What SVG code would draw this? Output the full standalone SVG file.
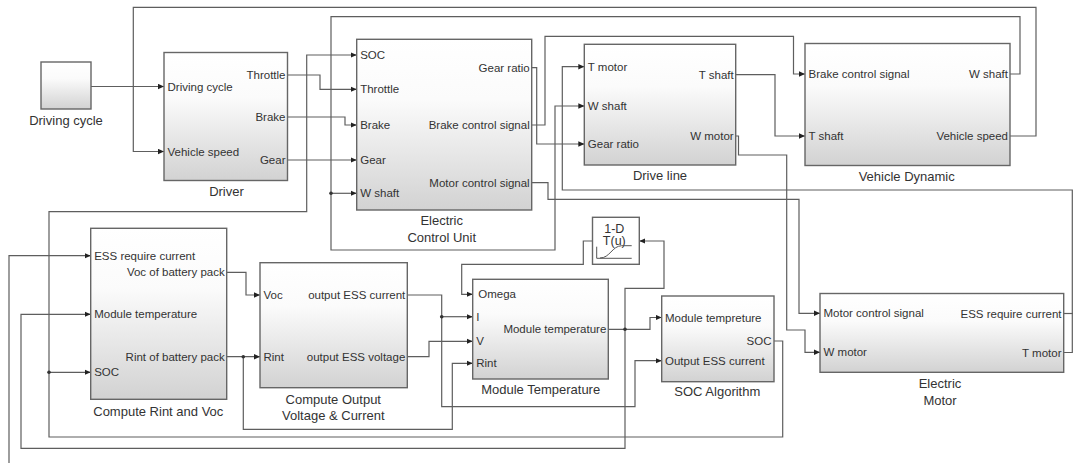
<svg xmlns="http://www.w3.org/2000/svg" width="1073" height="463" viewBox="0 0 1073 463">
<style>
.blk{fill:url(#g);stroke:#666;stroke-width:1.4}
.lut{fill:#fff;stroke:#666;stroke-width:1.4}
.ln{fill:none;stroke:#5e5e5e;stroke-width:1.2}
.ar{marker-end:url(#a)}
.dot{fill:#333}
text{font-family:"Liberation Sans",Arial,sans-serif;fill:#333}
.pl{font-size:11.5px}
.pr{font-size:11.5px;text-anchor:end}
.cap{font-size:13px;text-anchor:middle}
.ico{fill:none;stroke:#555;stroke-width:1}
</style>
<defs>
<linearGradient id="g" x1="0" y1="0" x2="0" y2="1">
<stop offset="0" stop-color="#ffffff"/>
<stop offset="0.35" stop-color="#fbfbfb"/>
<stop offset="1" stop-color="#d2d2d2"/>
</linearGradient>
<marker id="a" viewBox="0 0 6 6" refX="6" refY="3" markerWidth="6" markerHeight="6" markerUnits="userSpaceOnUse" orient="auto">
<path d="M0,0.3 L6,3 L0,5.7 z" fill="#222"/>
</marker>
</defs>
<rect width="1073" height="463" fill="#fff"/>

<g id="connectors">
<polyline class="ln ar" points="91,86.5 164,86.5"/>
<polyline class="ln ar" points="1010,136 1036,136 1036,7.3 133.3,7.3 133.3,151.5 164,151.5"/>
<polyline class="ln ar" points="287.5,75 320,75 320,89.3 356.7,89.3"/>
<polyline class="ln ar" points="287.5,117 345,117 345,125 356.7,125"/>
<polyline class="ln ar" points="287.5,160 356.7,160"/>
<polyline class="ln ar" points="774,341 782.7,341 782.7,437 49,437 49,211.7 306.7,211.7 306.7,55 356.7,55"/>
<polyline class="ln ar" points="49,372.3 90.7,372.3"/>
<circle class="dot" cx="49" cy="372.3" r="1.8"/>
<polyline class="ln ar" points="1010,74 1020,74 1020,16.7 331,16.7 331,250 555,250 555,106 584.3,106"/>
<polyline class="ln ar" points="331,193.3 356.7,193.3"/>
<circle class="dot" cx="331" cy="193.3" r="1.8"/>
<polyline class="ln ar" points="531.7,67.7 536.7,67.7 536.7,144 584.3,144"/>
<polyline class="ln ar" points="531.7,125 545,125 545,36.3 793.5,36.3 793.5,74 805,74"/>
<polyline class="ln ar" points="531.7,182.7 548,182.7 548,199.3 799,199.3 799,313.3 820,313.3"/>
<polyline class="ln ar" points="735.7,74.7 775,74.7 775,136 805,136"/>
<polyline class="ln ar" points="735.7,136 738.5,136 738.5,155 786.7,155 786.7,330 805,330 805,352.3 820,352.3"/>
<polyline class="ln ar" points="1063.7,352.5 1072.3,352.5 1072.3,190 562.3,190 562.3,66.7 584.3,66.7"/>
<polyline class="ln" points="1063.7,313.5 1074,313.5"/>
<polyline class="ln ar" points="9,464 9,255.7 90.7,255.7"/>
<polyline class="ln ar" points="226.7,272.3 246,272.3 246,295 260,295"/>
<polyline class="ln ar" points="226.7,356.7 260,356.7"/>
<polyline class="ln ar" points="243.3,356.7 243.3,429.3 452.3,429.3 452.3,363.3 472.7,363.3"/>
<circle class="dot" cx="243.3" cy="356.7" r="1.8"/>
<polyline class="ln ar" points="407.3,295 441.7,295 441.7,406.7 635,406.7 635,360.7 661.7,360.7"/>
<polyline class="ln ar" points="441.7,316.7 472.7,316.7"/>
<circle class="dot" cx="441.7" cy="316.7" r="1.8"/>
<polyline class="ln ar" points="407.3,356.7 429,356.7 429,341.3 472.7,341.3"/>
<polyline class="ln ar" points="608.3,329.3 650,329.3 650,317.5 661.7,317.5"/>
<polyline class="ln ar" points="625,329.3 625,288.3 664,288.3 664,241 639.3,241"/>
<polyline class="ln ar" points="625,329.3 625,448.3 21,448.3 21,314.3 90.7,314.3"/>
<circle class="dot" cx="625" cy="329.3" r="1.8"/>
<polyline class="ln ar" points="592.5,241 583.3,241 583.3,264.3 461.7,264.3 461.7,294.3 472.7,294.3"/>
</g>

<g id="driving-cycle">
<rect class="blk" x="41" y="62" width="50" height="47"/>
<text class="cap" x="66" y="124.5">Driving cycle</text>
</g>

<g id="driver">
<rect class="blk" x="164" y="52.5" width="123.5" height="128"/>
<text class="pl" x="167.5" y="90.5">Driving cycle</text>
<text class="pl" x="167.5" y="155.5">Vehicle speed</text>
<text class="pr" x="285.5" y="79">Throttle</text>
<text class="pr" x="285.5" y="121">Brake</text>
<text class="pr" x="285.5" y="164">Gear</text>
<text class="cap" x="226.5" y="196">Driver</text>
</g>

<g id="ecu">
<rect class="blk" x="356.7" y="39.3" width="175" height="170.7"/>
<text class="pl" x="360.2" y="59">SOC</text>
<text class="pl" x="360.2" y="93.3">Throttle</text>
<text class="pl" x="360.2" y="129">Brake</text>
<text class="pl" x="360.2" y="164">Gear</text>
<text class="pl" x="360.2" y="197.3">W shaft</text>
<text class="pr" x="529.7" y="71.7">Gear ratio</text>
<text class="pr" x="529.7" y="129">Brake control signal</text>
<text class="pr" x="529.7" y="186.7">Motor control signal</text>
<text class="cap" x="441.7" y="224.5">Electric</text>
<text class="cap" x="441.7" y="242">Control Unit</text>
</g>

<g id="drive-line">
<rect class="blk" x="584.3" y="44.3" width="151.4" height="120.7"/>
<text class="pl" x="587.8" y="70.7">T motor</text>
<text class="pl" x="587.8" y="110">W shaft</text>
<text class="pl" x="587.8" y="148">Gear ratio</text>
<text class="pr" x="733.7" y="78.7">T shaft</text>
<text class="pr" x="733.7" y="140">W motor</text>
<text class="cap" x="660" y="179.5">Drive line</text>
</g>

<g id="vehicle-dynamic">
<rect class="blk" x="805" y="43.5" width="205" height="122"/>
<text class="pl" x="808.5" y="78">Brake control signal</text>
<text class="pl" x="808.5" y="140">T shaft</text>
<text class="pr" x="1008" y="78">W shaft</text>
<text class="pr" x="1008" y="140">Vehicle speed</text>
<text class="cap" x="906.7" y="181">Vehicle Dynamic</text>
</g>

<g id="compute-rint-voc">
<rect class="blk" x="90.7" y="228.3" width="136" height="171"/>
<text class="pl" x="94.2" y="259.7">ESS require current</text>
<text class="pl" x="94.2" y="318.3">Module temperature</text>
<text class="pl" x="94.2" y="376.3">SOC</text>
<text class="pr" x="224.7" y="276.3">Voc of battery pack</text>
<text class="pr" x="224.7" y="360.7">Rint of battery pack</text>
<text class="cap" x="158.3" y="415.5">Compute Rint and Voc</text>
</g>

<g id="compute-output">
<rect class="blk" x="260" y="262.7" width="147.3" height="125"/>
<text class="pl" x="263.5" y="299">Voc</text>
<text class="pl" x="263.5" y="360.7">Rint</text>
<text class="pr" x="405.3" y="299">output ESS current</text>
<text class="pr" x="405.3" y="360.7">output ESS voltage</text>
<text class="cap" x="333.3" y="404">Compute Output</text>
<text class="cap" x="333.3" y="419.5">Voltage &amp; Current</text>
</g>

<g id="module-temperature">
<rect class="blk" x="472.7" y="279.3" width="135.6" height="99.7"/>
<text class="pl" x="478.3" y="298.3">Omega</text>
<text class="pl" x="476.2" y="320.7">I</text>
<text class="pl" x="476.2" y="345.3">V</text>
<text class="pl" x="476.2" y="367.3">Rint</text>
<text class="pr" x="606.3" y="333.3">Module temperature</text>
<text class="cap" x="540.7" y="394">Module Temperature</text>
</g>

<g id="lookup-table">
<rect class="lut" x="592.5" y="217.3" width="46.8" height="47"/>
<text x="614.3" y="232.5" font-size="12.5" text-anchor="middle">1-D</text>
<text x="614.3" y="244.5" font-size="12.5" text-anchor="middle">T(u)</text>
<path class="ico" d="M596.7,246.7 V258.3 H631.7"/>
<path class="ico" d="M600,258 C610,258 612,246 621.7,245.7 H631.7"/>
</g>

<g id="soc-algorithm">
<rect class="blk" x="661.7" y="296" width="112.3" height="85.7"/>
<text class="pl" x="665" y="321.5">Module tempreture</text>
<text class="pl" x="665" y="364.7">Output ESS current</text>
<text class="pr" x="771.5" y="345">SOC</text>
<text class="cap" x="717.3" y="396">SOC Algorithm</text>
</g>

<g id="electric-motor">
<rect class="blk" x="820" y="293.5" width="243.7" height="78.8"/>
<text class="pl" x="823.5" y="317.3">Motor control signal</text>
<text class="pl" x="823.5" y="356.3">W motor</text>
<text class="pr" x="1061.5" y="317.5">ESS require current</text>
<text class="pr" x="1061.5" y="356.5">T motor</text>
<text class="cap" x="940" y="388">Electric</text>
<text class="cap" x="940" y="404.5">Motor</text>
</g>
</svg>
